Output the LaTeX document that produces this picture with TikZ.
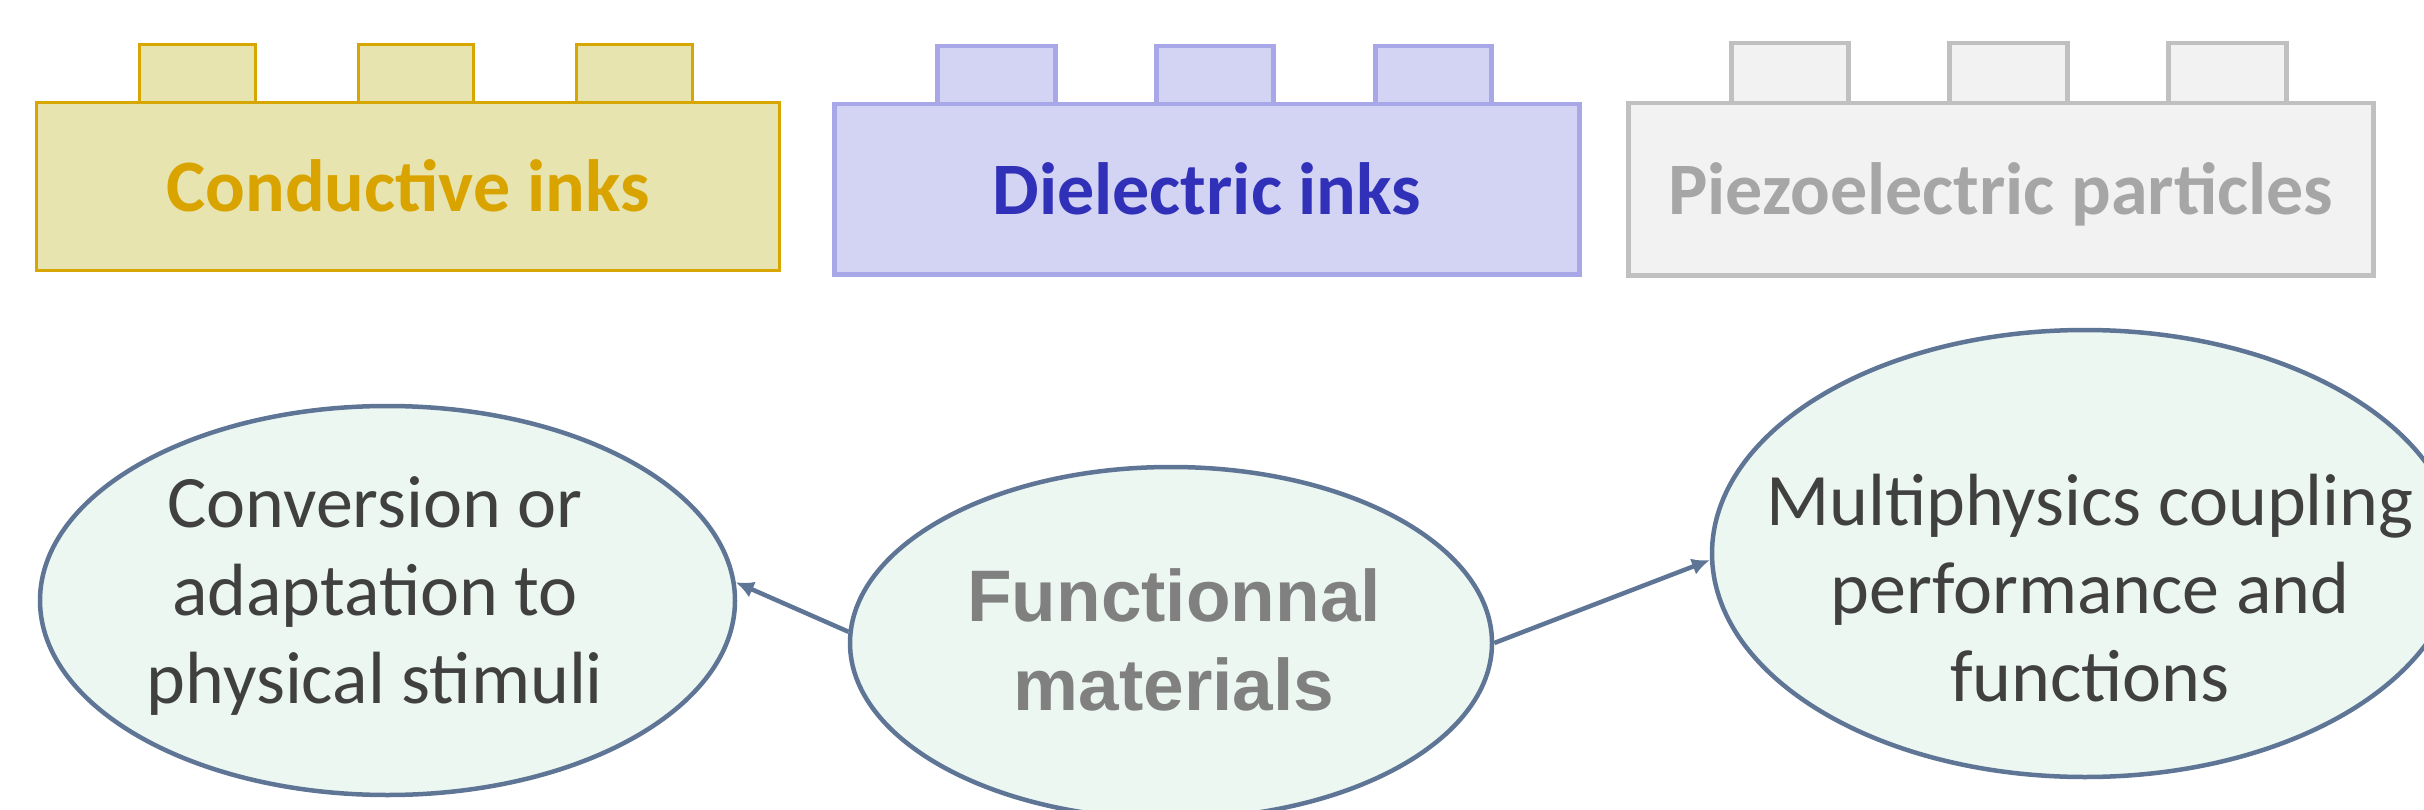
\documentclass[tikz,border=0pt]{standalone}
\usepackage{fontspec}
\setmainfont{Carlito}
\newfontfamily\arialfont{Liberation Sans}
\usetikzlibrary{shapes.geometric,arrows.meta}
\definecolor{condfill}{HTML}{E7E4AF}
\definecolor{conddraw}{HTML}{D8A600}
\definecolor{condtext}{HTML}{D9A400}
\definecolor{dielfill}{HTML}{D3D3F3}
\definecolor{dieldraw}{HTML}{A8A8E8}
\definecolor{dieltext}{HTML}{3030B8}
\definecolor{piezfill}{HTML}{F2F2F2}
\definecolor{piezdraw}{HTML}{C0C0C0}
\definecolor{pieztext}{HTML}{A6A6A6}
\definecolor{ellfill}{HTML}{ECF7F1}
\definecolor{elldraw}{HTML}{5F7595}
\definecolor{bodytext}{HTML}{404040}
\definecolor{fmtext}{HTML}{808080}
\begin{document}
\begin{tikzpicture}[x=1pt,y=-1pt,
  brickbody/.style={rectangle, inner sep=0pt, anchor=north west, text height=50pt, text depth=0pt,
    font=\fontsize{74}{88}\selectfont\bfseries},
  studbox/.style={rectangle, inner sep=0pt, anchor=north west},
  condbrick/.style={fill=condfill, draw=conddraw, line width=3pt, text=condtext},
  dielbrick/.style={fill=dielfill, draw=dieldraw, line width=4.5pt, text=dieltext},
  piezbrick/.style={fill=piezfill, draw=piezdraw, line width=4.5pt, text=pieztext},
  bubble/.style={ellipse, fill=ellfill, draw=elldraw, line width=4.5pt, inner sep=0pt},
  bubbletext/.style={anchor=base, inner sep=0pt, text=bodytext, font=\fontsize{74}{88}\selectfont},
  fmtextstyle/.style={anchor=base, inner sep=0pt, text=fmtext, font=\arialfont\bfseries\fontsize{73}{89}\selectfont},
  linkarrow/.style={draw=elldraw, line width=4.5pt, -{Latex[length=18pt,width=17pt]}}
]
\useasboundingbox (0,0) rectangle (2424,810);
\clip (0,0) rectangle (2424,810);
\fill[white] (0,0) rectangle (2424,810);

% Conductive inks brick
\node[studbox, condbrick, minimum width=116pt, minimum height=58pt] (c1) at (138,43) {};
\node[studbox, condbrick, minimum width=115pt, minimum height=58pt] (c2) at (357,43) {};
\node[studbox, condbrick, minimum width=116pt, minimum height=58pt] (c3) at (575,43) {};
\node[brickbody, condbrick, minimum width=743pt, minimum height=168pt] (cond) at (35,101) {Conductive inks};

% Dielectric inks brick
\node[studbox, dielbrick, minimum width=118pt, minimum height=58pt] (d1) at (935,44) {};
\node[studbox, dielbrick, minimum width=117pt, minimum height=58pt] (d2) at (1154,44) {};
\node[studbox, dielbrick, minimum width=116pt, minimum height=58pt] (d3) at (1373,44) {};
\node[brickbody, dielbrick, minimum width=745pt, minimum height=170pt] (diel) at (832,102) {Dielectric inks};

% Piezoelectric particles brick
\node[studbox, piezbrick, minimum width=117pt, minimum height=60pt] (p1) at (1729,41) {};
\node[studbox, piezbrick, minimum width=118pt, minimum height=60pt] (p2) at (1947,41) {};
\node[studbox, piezbrick, minimum width=118pt, minimum height=60pt] (p3) at (2166,41) {};
\node[brickbody, piezbrick, minimum width=745pt, minimum height=172pt] (piez) at (1626,101) {Piezoelectric particles};

% Ellipses
\node[bubble, minimum width=695pt, minimum height=389pt] (conv) at (387.5,600.5) {};
\node[bubble, minimum width=642pt, minimum height=352pt] (func) at (1171,643) {};
\node[bubble, minimum width=746pt, minimum height=447pt] (multi) at (2085,553.5) {};

\node[bubbletext] (convtext) at (375,527) {\setlength{\tabcolsep}{0pt}\begin{tabular}[t]{c}Conversion or\\adaptation to\\physical stimuli\end{tabular}};
\node[bubbletext] (multitext) at (2090,525) {\setlength{\tabcolsep}{0pt}\begin{tabular}[t]{c}Multiphysics coupling\\performance and\\functions\end{tabular}};
\node[fmtextstyle] (functext) at (1174,621) {\setlength{\tabcolsep}{0pt}\begin{tabular}[t]{c}Functionnal\\materials\end{tabular}};

% Connectors
\draw[linkarrow] (func.178) -- (conv.3.5);
\draw[linkarrow] (func.-0.3) -- (multi.181.3);
\end{tikzpicture}
\end{document}
